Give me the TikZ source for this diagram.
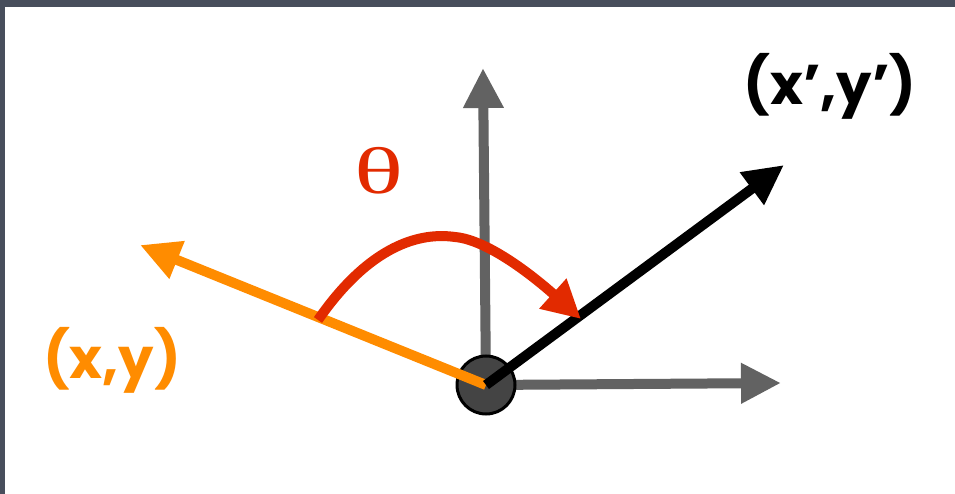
\documentclass[tikz,border=0pt]{standalone}
\usepackage{fontspec}
\setmainfont{Poppins}
\newfontfamily\thetafont{Liberation Serif}
\usetikzlibrary{arrows.meta}
\definecolor{slate}{HTML}{484E5C}
\definecolor{axisgray}{HTML}{626262}
\definecolor{vorange}{HTML}{FF8C00}
\definecolor{vred}{HTML}{E22A00}
\definecolor{dotfill}{HTML}{444444}
\tikzset{
  vec/.style={line width=10pt, -{Triangle[length=40pt,width=38pt]}},
  lbl/.style={inner sep=0pt, font=\fontsize{56}{60}\selectfont\bfseries},
}
\begin{document}
\begin{tikzpicture}[x=1pt,y=-1pt]
\useasboundingbox (0,0) rectangle (955,494);
\fill[slate] (0,0) rectangle (955,494);
\fill[white] (5,7) rectangle (955,494);
\coordinate (o) at (486,385);
\coordinate (up) at (483,68);
\coordinate (rt) at (781,383);
\coordinate (xy) at (140,245);
\coordinate (xpyp) at (784,165);
\draw[vec, axisgray] (o) -- (up);
\draw[vec, axisgray] (o) -- (rt);
\node[circle, draw=black, line width=3pt, fill=dotfill, minimum size=58pt, inner sep=0pt] (dot) at (o) {};
\draw[vec, vorange] (o) -- (xy);
\draw[vec, black] (o) -- (xpyp);
\coordinate (a0) at (318,320);
\coordinate (a1) at (455,237);
\coordinate (a2) at (581,319);
\draw[line width=10pt, vred, -{Triangle[length=38pt,width=38pt]}] (a0) .. controls (370,245) and (420,232) .. (a1) .. controls (490,240) and (540,282) .. (a2);
\node[lbl, vorange] (lxy) at (112,360) {(x,y)};
\node[lbl, black] (lxpyp) at (830,86) {(x',y')};
\node[inner sep=0pt, vred, xscale=1.55, font=\thetafont\fontsize{66}{66}\selectfont] (th) at (379,171) {θ};
\end{tikzpicture}
\end{document}
